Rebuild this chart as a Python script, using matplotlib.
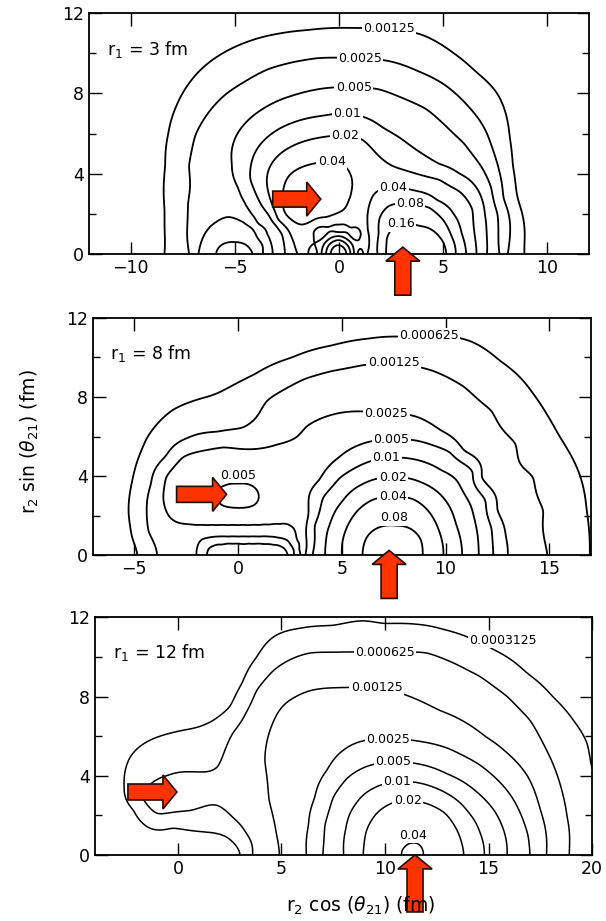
import numpy as np
import matplotlib
matplotlib.use("Agg")
import matplotlib.pyplot as plt
from matplotlib.patches import Polygon
from matplotlib import transforms

# ---------------- contour levels (density of neutron 2) ----------------
levels_r3 = [0.00125, 0.0025, 0.005, 0.01, 0.02, 0.04, 0.08, 0.16]
levels_r8 = [0.000625, 0.00125, 0.0025, 0.005, 0.01, 0.02, 0.04, 0.08]
levels_r12 = [0.0003125, 0.000625, 0.00125, 0.0025, 0.005, 0.01, 0.02, 0.04]

# ---------------- r1 = 3 fm : points (x, y) on each iso-density line ----------------
r3_iso_00125 = [(-8.38, 0), (-8.38, 2.2), (-8.35, 4.4), (-8.2, 6.0), (-7.8, 7.4), (-7.2, 8.5),
                (-6.4, 9.4), (-5.4, 10.1), (-4.3, 10.6), (-3.0, 10.95), (-1.5, 11.15),
                (0.8, 11.25), (2.4, 11.2), (4.0, 10.9), (5.5, 10.0), (6.6, 9.05), (7.55, 8.05),
                (8.0, 7.0), (8.2, 5.8), (8.35, 4.4), (8.6, 2.7), (8.9, 0)]
r3_iso_0025 = [(-7.2, 0), (-7.25, 2.5), (-7.2, 4.4), (-6.9, 5.9), (-6.3, 7.0), (-5.5, 7.9),
               (-4.5, 8.6), (-3.4, 9.2), (-2.2, 9.55), (-1.0, 9.75), (1.0, 9.75), (2.4, 9.6),
               (3.8, 9.1), (5.1, 8.4), (6.25, 7.3), (7.1, 6.0), (7.6, 4.5), (7.9, 2.8), (8.1, 0)]
r3_iso_005 = [(-3.2, 0), (-3.45, 1.0), (-3.85, 1.5), (-4.2, 2.0), (-4.55, 2.6), (-4.85, 3.3),
              (-5.15, 4.5), (-5.05, 5.6), (-4.6, 6.4), (-3.7, 7.2), (-2.2, 7.9), (-0.7, 8.25),
              (0.7, 8.3), (1.9, 8.2), (3.2, 7.7), (4.2, 7.2), (5.1, 6.4), (6.0, 5.5), (6.8, 4.4),
              (7.3, 3.3), (7.6, 2.0), (7.7, 0),
              (-6.75, 0), (-6.5, 0.9), (-5.9, 1.6), (-5.3, 1.85), (-4.6, 1.6), (-4.0, 1.0),
              (-3.65, 0)]
r3_iso_01 = [(-2.6, 0), (-2.75, 1.0), (-3.05, 1.45), (-3.35, 1.9), (-3.7, 2.4), (-3.95, 2.9),
             (-4.25, 3.7), (-4.1, 4.9), (-3.35, 5.9), (-2.2, 6.55), (-0.7, 6.9), (0.35, 7.0),
             (1.1, 6.85), (2.1, 6.3), (2.9, 5.8), (3.7, 5.2), (4.8, 4.5), (5.8, 4.0), (6.6, 3.3),
             (7.0, 2.0), (7.1, 0),
             (-5.9, 0), (-5.65, 0.45), (-5.0, 0.6), (-4.45, 0.45), (-4.15, 0)]
r3_iso_02 = [(-2.0, 0), (-2.3, 0.9), (-2.9, 1.7), (-3.35, 2.9), (-3.45, 3.9), (-3.1, 4.7),
             (-2.2, 5.4), (-0.6, 5.85), (0.3, 5.9), (1.1, 5.7), (1.8, 5.0), (2.55, 4.4),
             (3.4, 4.1), (4.8, 3.7), (5.8, 3.1), (6.4, 2.2), (6.6, 0),
             (-1.45, 0), (-1.2, 0.9), (-0.6, 1.35), (0.0, 1.45), (0.6, 1.3), (1.0, 0.85), (1.15, 0),
             (-1.05, 0), (-0.8, 0.8), (0.0, 1.1), (0.7, 0.75), (0.9, 0)]
r3_iso_04 = [(1.35, 0), (1.38, 1.2), (1.4, 2.2), (1.8, 3.1), (2.6, 3.3), (3.7, 3.15), (4.7, 2.7),
             (5.5, 2.0), (5.9, 1.0), (6.1, 0),
             (-2.65, 2.2), (-2.7, 3.0), (-2.4, 3.9), (-1.6, 4.4), (-0.4, 4.6), (0.35, 4.3),
             (0.6, 3.8), (0.55, 2.9), (0.2, 2.2), (-0.6, 1.85), (-1.4, 1.6), (-2.2, 1.65),
             (-0.85, 0), (-0.6, 0.65), (0.0, 0.9), (0.55, 0.6), (0.72, 0)]
r3_iso_08 = [(1.85, 0), (1.9, 1.0), (1.95, 1.8), (2.4, 2.4), (3.4, 2.5), (4.35, 2.3), (5.0, 1.7),
             (5.4, 0.9), (5.6, 0),
             (-0.62, 0), (-0.45, 0.5), (0.0, 0.7), (0.4, 0.45), (0.55, 0)]
r3_iso_16 = [(2.25, 0), (2.3, 0.8), (2.6, 1.35), (3.2, 1.5), (3.9, 1.4), (4.6, 1.1), (5.0, 0.6),
             (5.15, 0),
             (-0.4, 0), (0.0, 0.45), (0.35, 0)]
# extra density readings (x, y, value): maxima, saddles, valleys, far field
r3_extra = [(3.7, 0, 0.27), (-1.0, 3.0, 0.055), (0.0, 0.05, 0.3), (-5.0, 0, 0.013),
            (0.95, 2.7, 0.033), (1.05, 1.8, 0.03), (-1.75, 0.3, 0.026),
            (-1.25, 0, 0.013), (-0.95, 0.95, 0.013), (0.0, 1.28, 0.013), (0.8, 0.95, 0.013),
            (1.02, 0, 0.013),
            (-3.42, 0, 0.0042), (-3.75, 1.0, 0.0042), (-4.4, 1.8, 0.0042), (-5.3, 2.4, 0.0042),
            (-6.95, 0.2, 0.0036),
            (-11.5, 0.5, 0.0004), (-11.5, 6.0, 0.0004), (-11.5, 11.5, 0.0004),
            (11.5, 0.5, 0.0004), (11.5, 6.0, 0.0004), (11.5, 11.5, 0.0004)]

# ---------------- r1 = 8 fm ----------------
r8_iso_000625 = [(-4.85, 0), (-5.2, 1.5), (-5.25, 2.8), (-4.9, 4.6), (-4.4, 5.9), (-3.2, 7.3),
                 (-1.85, 7.9), (-0.5, 8.45), (0.8, 9.15), (2.6, 10.0), (4.5, 10.6), (6.3, 10.95),
                 (7.9, 11.05), (9.2, 11.1), (11.1, 10.85), (12.6, 9.85), (14.2, 8.2), (15.5, 6.0),
                 (16.5, 3.95), (16.8, 2.3), (16.95, 0)]
r8_iso_00125 = [(-3.9, 0), (-4.3, 1.2), (-4.4, 2.3), (-4.2, 3.6), (-3.5, 5.0), (-2.5, 5.9),
                (-1.0, 6.25), (0.2, 6.45), (0.9, 7.0), (1.4, 7.8), (2.1, 8.3), (3.2, 8.9),
                (4.5, 9.3), (6.0, 9.6), (7.5, 9.75), (9.3, 9.35), (10.9, 8.5), (12.2, 7.3),
                (13.35, 5.65), (14.2, 3.95), (14.7, 2.25), (14.9, 0)]
r8_iso_0025 = [(3.0, 0), (2.95, 0.35), (2.85, 0.75), (2.5, 1.5), (2.0, 1.58), (1.5, 1.55),
               (1.0, 1.53), (0.5, 1.52), (0.0, 1.52), (-0.5, 1.52), (-1.0, 1.52), (-1.5, 1.52),
               (-2.0, 1.53), (-2.65, 1.6), (-3.3, 1.95), (-3.6, 2.95),
               (-3.45, 3.95), (-2.65, 4.95), (-0.7, 5.45), (1.9, 5.6), (2.85, 6.0), (3.3, 6.5),
               (4.95, 7.2), (7.15, 7.15), (8.6, 7.0), (9.8, 6.3), (10.9, 5.3), (11.75, 3.95),
               (12.5, 2.3), (12.9, 1.0), (13.0, 0),
               (-2.0, 0), (-1.95, 0.45), (-1.75, 0.8), (-1.3, 0.92), (-1.0, 0.95), (-0.5, 0.95),
               (0.0, 0.95), (0.5, 0.95), (1.0, 0.95), (1.5, 0.95), (1.9, 0.9), (2.35, 0.78),
               (2.6, 0.45), (2.7, 0)]
r8_iso_005 = [(3.25, 0), (3.3, 1.5), (3.4, 2.75), (3.9, 3.8), (4.8, 4.9), (5.9, 5.6), (7.4, 5.85),
              (8.8, 5.75), (10.2, 5.2), (11.3, 4.2), (11.9, 2.8), (12.2, 1.4), (12.3, 0),
              (-1.0, 3.0), (-0.7, 3.5), (0.0, 3.62), (0.7, 3.5), (1.0, 3.0), (0.7, 2.5),
              (0.0, 2.4), (-0.7, 2.5),
              (-1.5, 0), (-1.4, 0.35), (-1.0, 0.55), (-0.5, 0.6), (0.0, 0.6), (0.5, 0.6),
              (1.0, 0.6), (1.5, 0.58), (1.9, 0.52), (2.25, 0.33), (2.4, 0)]
r8_iso_01 = [(3.6, 0), (3.7, 1.5), (4.1, 2.9), (4.9, 3.9), (6.0, 4.6), (7.15, 4.95), (8.5, 4.85),
             (9.8, 4.3), (10.8, 3.3), (11.4, 1.8), (11.6, 0)]
r8_iso_02 = [(4.2, 0), (4.4, 1.5), (5.0, 2.7), (6.0, 3.6), (7.45, 3.95), (8.8, 3.7), (9.9, 2.9),
             (10.5, 1.6), (10.8, 0)]
r8_iso_04 = [(5.0, 0), (5.2, 1.3), (5.8, 2.3), (6.6, 2.85), (7.45, 2.95), (8.4, 2.85), (9.2, 2.2),
             (9.7, 1.2), (9.9, 0)]
r8_iso_08 = [(6.0, 0), (6.2, 0.9), (6.9, 1.45), (7.6, 1.5), (8.3, 1.35), (8.8, 0.8), (8.9, 0)]
r8_extra = [(7.5, 0, 0.12), (0.0, 3.0, 0.0058),
            (0.4, 0, 0.0062), (0.4, 0.3, 0.006), (-0.8, 0.2, 0.0058), (1.6, 0.2, 0.0058),
            (-2.35, 0.3, 0.0019), (-2.25, 0.95, 0.0019), (-2.0, 1.18, 0.0019),
            (-1.5, 1.22, 0.0019), (-1.0, 1.23, 0.0019), (-0.5, 1.23, 0.0019),
            (0.0, 1.23, 0.0019), (0.5, 1.23, 0.0019), (1.0, 1.24, 0.0019), (1.5, 1.25, 0.0019),
            (2.0, 1.22, 0.0019), (2.4, 1.1, 0.0019), (2.75, 0.6, 0.0019), (2.87, 0, 0.0019),
            (-3.0, 0.3, 0.0019), (3.1, 2.0, 0.0035),
            (-6.8, 0.3, 0.0003), (-6.8, 6.0, 0.0003), (-6.8, 11.7, 0.00025), (-2.0, 11.7, 0.0004),
            (16.9, 11.7, 0.0003), (16.9, 8.0, 0.0003)]

# ---------------- r1 = 12 fm ----------------
r12_iso_0003125 = [(3.0, 0), (2.85, 0.4), (2.35, 0.9), (1.4, 1.15), (-0.25, 1.35), (-1.7, 1.6),
                   (-2.15, 2.25), (-2.6, 3.45), (-2.3, 4.95), (-1.0, 5.95), (0.25, 6.3),
                   (1.7, 6.8), (2.5, 7.5), (3.1, 8.7), (3.8, 10.0), (4.6, 11.0), (5.9, 11.45),
                   (7.5, 11.6), (9.9, 11.7), (11.55, 11.65), (12.8, 11.4), (14.0, 11.0),
                   (15.2, 10.4), (16.85, 9.2), (18.1, 8.0), (19.1, 6.8), (19.75, 5.65), (20.0, 4.4)]
r12_iso_000625 = [(3.6, 0), (3.3, 1.1), (2.65, 1.9), (1.9, 2.5), (0.6, 2.25), (-1.0, 2.1),
                  (-1.7, 2.9), (-1.4, 3.5), (-0.55, 4.0), (0.6, 4.2), (1.9, 4.45), (2.2, 5.1),
                  (2.65, 6.15), (3.3, 7.2), (3.8, 8.3), (4.6, 9.3), (5.6, 9.95), (6.4, 10.2),
                  (8.1, 10.25), (10.0, 10.25), (12.0, 10.2), (13.3, 9.7), (14.6, 9.0),
                  (15.9, 8.0), (17.0, 6.8), (17.8, 5.3), (18.45, 3.6), (18.8, 1.9), (18.9, 0)]
r12_iso_00125 = [(4.9, 0), (4.75, 1.1), (4.4, 2.8), (4.2, 4.8), (4.4, 6.15), (4.9, 7.3),
                 (5.7, 8.0), (6.4, 8.3), (7.75, 8.45), (9.6, 8.45), (11.2, 8.0), (12.65, 7.3),
                 (13.95, 6.65), (14.9, 5.95), (15.9, 5.15), (16.9, 3.95), (17.5, 2.3), (17.8, 0)]
r12_iso_0025 = [(6.2, 0), (6.3, 1.5), (6.6, 2.9), (7.2, 4.3), (8.0, 5.3), (8.9, 5.75),
                (10.15, 5.85), (11.6, 5.75), (13.0, 5.4), (14.5, 4.6), (15.7, 3.5), (16.5, 2.2),
                (16.9, 1.0), (17.0, 0)]
r12_iso_005 = [(7.0, 0), (7.1, 1.5), (7.5, 2.9), (8.2, 3.9), (9.2, 4.5), (10.4, 4.7), (11.6, 4.6),
               (13.0, 4.1), (14.3, 3.3), (15.3, 2.2), (15.8, 1.0), (15.9, 0)]
r12_iso_01 = [(8.0, 0), (8.1, 1.3), (8.6, 2.6), (9.5, 3.4), (10.6, 3.7), (11.8, 3.6), (13.0, 3.1),
              (14.0, 2.2), (14.6, 1.1), (14.8, 0)]
r12_iso_02 = [(8.95, 0), (9.1, 1.2), (9.6, 2.1), (10.3, 2.6), (11.1, 2.75), (12.0, 2.6),
              (12.9, 2.1), (13.5, 1.2), (13.8, 0)]
r12_iso_04 = [(10.8, 0), (10.95, 0.4), (11.3, 0.6), (11.6, 0.55), (11.8, 0.3), (11.85, 0)]
r12_extra = [(11.3, 0, 0.048), (0.2, 3.1, 0.00085), (3.3, 3.5, 0.00095),
             (-3.7, 0.3, 0.0002), (0.0, 0.4, 0.00022), (-3.7, 7.0, 0.00018),
             (-3.7, 11.7, 0.00015), (1.0, 11.7, 0.0002), (9.0, 12.4, 0.00026),
             (19.8, 11.8, 0.00022), (20.0, 2.0, 0.00042), (20.0, 0, 0.00042)]

# ---------------- contour labels: level, x, y, sits on its line ----------------
r3_lab_lev = [0.00125, 0.0025, 0.005, 0.01, 0.02, 0.04, 0.04, 0.08, 0.16]
r3_lab_x = [2.4, 1.0, 0.7, 0.4, 0.3, -0.35, 2.6, 3.4, 2.95]
r3_lab_y = [11.2, 9.75, 8.3, 7.0, 5.9, 4.55, 3.3, 2.5, 1.45]
r3_lab_on = [True, True, True, True, True, True, True, True, True]

r8_lab_lev = [0.000625, 0.00125, 0.0025, 0.005, 0.01, 0.02, 0.04, 0.08, 0.005]
r8_lab_x = [9.2, 7.5, 7.15, 7.4, 7.15, 7.45, 7.45, 7.5, 0.0]
r8_lab_y = [11.1, 9.75, 7.15, 5.9, 4.95, 3.95, 2.95, 1.9, 4.05]
r8_lab_on = [True, True, True, True, True, True, True, False, False]

r12_lab_lev = [0.0003125, 0.000625, 0.00125, 0.0025, 0.005, 0.01, 0.02, 0.04]
r12_lab_x = [15.7, 10.0, 9.6, 10.15, 10.4, 10.6, 11.1, 11.35]
r12_lab_y = [10.85, 10.25, 8.45, 5.8, 4.7, 3.7, 2.75, 1.0]
r12_lab_on = [False, True, True, True, True, True, True, False]

# ---------------- pointer arrows: tip x, tip y, direction, length (px) ----------------
r3_arrows = [(-0.88, 2.74, "right", 48), (3.06, 0.35, "up", 48)]
r8_arrows = [(-0.55, 3.08, "right", 50), (7.28, 0.25, "up", 48)]
r12_arrows = [(-0.05, 3.18, "right", 49), (11.45, 0.0, "up", 57)]

TICK_FS = 12.5
LAB_FS = 9


def collect(levels, iso_sets, extra):
    px, py, pv = [], [], []
    for lev, pts in zip(levels, iso_sets):
        for x, y in pts:
            px.append(x); py.append(y); pv.append(lev)
    for x, y, v in extra:
        px.append(x); py.append(y); pv.append(v)
    return np.array(px, float), np.array(py, float), np.log2(np.array(pv, float))


def tps_surface(px, py, pz, X, Y, smooth=0.012):
    # the density is symmetric about y = 0, so reflect the samples
    m = py > 0.02
    px = np.concatenate([px, px[m]])
    py = np.concatenate([py, -py[m]])
    pz = np.concatenate([pz, pz[m]])
    n = len(px)
    d = np.hypot(px[:, None] - px[None, :], py[:, None] - py[None, :])
    with np.errstate(divide="ignore", invalid="ignore"):
        K = np.where(d > 0, d ** 2 * np.log(d), 0.0)
    P = np.column_stack([np.ones(n), px, py])
    A = np.zeros((n + 3, n + 3))
    A[:n, :n] = K + smooth * np.eye(n)
    A[:n, n:] = P
    A[n:, :n] = P.T
    sol = np.linalg.solve(A, np.concatenate([pz, np.zeros(3)]))
    w, a = sol[:n], sol[n:]
    xf, yf = X.ravel(), Y.ravel()
    out = a[0] + a[1] * xf + a[2] * yf
    step = 4000
    for s in range(0, len(xf), step):
        dd = np.hypot(xf[s:s + step, None] - px[None, :], yf[s:s + step, None] - py[None, :])
        with np.errstate(divide="ignore", invalid="ignore"):
            kk = np.where(dd > 0, dd ** 2 * np.log(dd), 0.0)
        out[s:s + step] += kk @ w
    return (2.0 ** out).reshape(X.shape)


def block_arrow(fig, ax, tip_x, tip_y, direction, length):
    head_len, head_half, shaft_half = 14.0, 17.0, 8.0
    pts = np.array([[0, 0], [-head_len, head_half], [-head_len, shaft_half],
                    [-length, shaft_half], [-length, -shaft_half],
                    [-head_len, -shaft_half], [-head_len, -head_half]])
    if direction == "up":
        pts = np.column_stack([-pts[:, 1], pts[:, 0]])
    trans = fig.dpi_scale_trans + transforms.ScaledTranslation(tip_x, tip_y, ax.transData)
    ax.add_patch(Polygon(pts / fig.dpi, closed=True, transform=trans,
                         facecolor="#ff3300", edgecolor="#2a0a00", lw=1.2,
                         clip_on=False, zorder=6))


def draw_panel(fig, ax, xlim, xticks, levels, iso_sets, extra, labels, title, arrows, lw):
    x = np.linspace(xlim[0], xlim[1], 481)
    y = np.linspace(0.0, 12.0, 241)
    X, Y = np.meshgrid(x, y)
    F = tps_surface(*collect(levels, iso_sets, extra), X, Y)
    cs = ax.contour(X, Y, F, levels=levels, colors="black", linewidths=lw, zorder=2)
    paths = cs.get_paths()
    for lev, lx, ly, on in zip(*labels):
        txt = f"{lev:g}"
        if on:
            verts = paths[levels.index(lev)].vertices
            k = np.argmin((verts[:, 0] - lx) ** 2 + (verts[:, 1] - ly) ** 2)
            px, py = verts[k]
        else:
            px, py = lx, ly
        ax.text(px, py, txt, fontsize=LAB_FS, ha="center", va="center", zorder=4,
                bbox=dict(facecolor="white", edgecolor="none", pad=1.0))

    ax.set_xlim(*xlim)
    ax.set_ylim(0, 12)
    ax.set_xticks(xticks)
    ax.set_yticks([0, 4, 8, 12])
    ax.set_yticks([2, 6, 10], minor=True)
    ax.tick_params(which="both", direction="in", top=True, right=True,
                   labelsize=TICK_FS, width=1.0)
    ax.tick_params(which="major", length=9)
    ax.tick_params(which="minor", length=5)
    for s in ax.spines.values():
        s.set_linewidth(1.3)
    ax.text(0.035, 0.85, title, transform=ax.transAxes, fontsize=12.5,
            ha="left", va="center")
    for tx, ty, d, L in arrows:
        block_arrow(fig, ax, tx, ty, d, L)


fig = plt.figure(figsize=(6.06, 9.21), dpi=100)
ax1 = fig.add_axes([0.147, 0.724, 0.825, 0.262])
ax2 = fig.add_axes([0.153, 0.397, 0.822, 0.258])
ax3 = fig.add_axes([0.157, 0.0717, 0.820, 0.258])

draw_panel(fig, ax1, (-12, 12), [-10, -5, 0, 5, 10], levels_r3,
           [r3_iso_00125, r3_iso_0025, r3_iso_005, r3_iso_01, r3_iso_02, r3_iso_04,
            r3_iso_08, r3_iso_16], r3_extra,
           (r3_lab_lev, r3_lab_x, r3_lab_y, r3_lab_on), r"r$_1$ = 3 fm", r3_arrows, 1.3)
draw_panel(fig, ax2, (-7, 17), [-5, 0, 5, 10, 15], levels_r8,
           [r8_iso_000625, r8_iso_00125, r8_iso_0025, r8_iso_005, r8_iso_01, r8_iso_02,
            r8_iso_04, r8_iso_08], r8_extra,
           (r8_lab_lev, r8_lab_x, r8_lab_y, r8_lab_on), r"r$_1$ = 8 fm", r8_arrows, 1.3)
draw_panel(fig, ax3, (-4, 20), [0, 5, 10, 15, 20], levels_r12,
           [r12_iso_0003125, r12_iso_000625, r12_iso_00125, r12_iso_0025, r12_iso_005,
            r12_iso_01, r12_iso_02, r12_iso_04], r12_extra,
           (r12_lab_lev, r12_lab_x, r12_lab_y, r12_lab_on), r"r$_1$ = 12 fm", r12_arrows, 1.1)

fig.text(0.05, 0.52, r"r$_2$ sin ($\theta_{21}$) (fm)", rotation=90,
         fontsize=13.5, ha="center", va="center")
fig.text(0.595, 0.016, r"r$_2$ cos ($\theta_{21}$) (fm)", fontsize=13.5,
         ha="center", va="center")

fig.savefig("out.png", dpi=100, facecolor="white")
